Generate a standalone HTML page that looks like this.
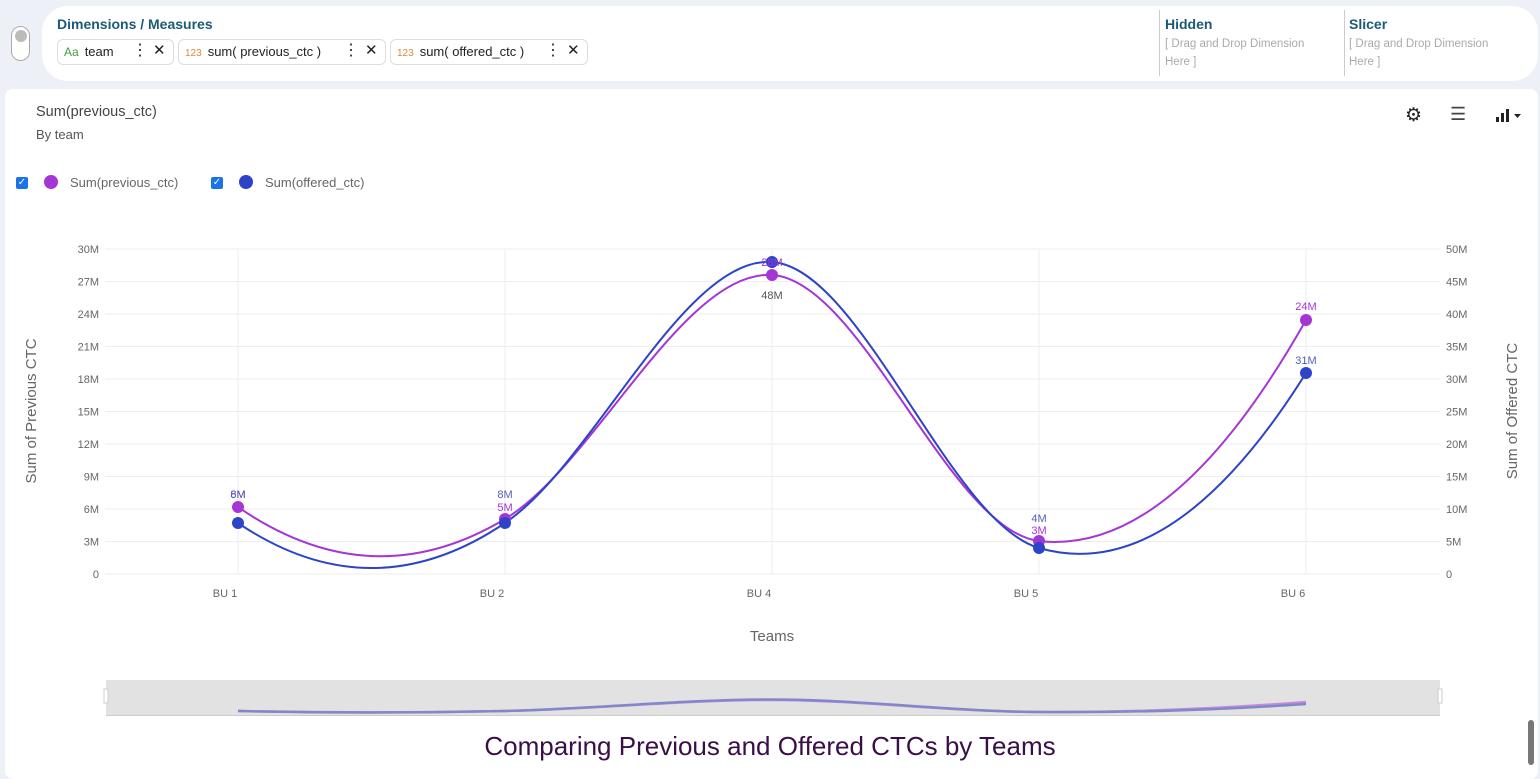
<!DOCTYPE html>
<html><head><meta charset="utf-8"><style>
*{box-sizing:border-box;margin:0;padding:0}
body{width:1540px;height:776px;overflow:hidden;background:#eef0f8;font-family:"Liberation Sans",sans-serif;position:relative}
.top{position:absolute;left:42px;top:6px;width:1496px;height:75px;background:#fff;border-radius:26px}
.tog{position:absolute;left:11px;top:26px;width:19px;height:35px;border:1px solid #aaa;border-radius:10px;background:#fff}
.tog:after{content:"";position:absolute;left:3px;top:3px;width:12px;height:12px;border-radius:50%;background:#bbb}
.hd{position:absolute;font-size:14px;font-weight:bold;color:#1d5a78}
.chip{position:absolute;top:39px;height:26px;border:1px solid #ddd;border-radius:6px;font-size:13px;color:#222;line-height:24px;padding-left:6px;white-space:nowrap}
.chip i{font-style:normal;font-size:10px;color:#e08a3c;margin-right:6px}
.chip b{font-weight:normal;position:absolute;font-size:16px}
.ph{position:absolute;font-size:11.5px;color:#aaa;line-height:18px;width:165px}
.vl{position:absolute;top:10px;width:1px;height:66px;background:#ccc}
.card{position:absolute;left:5px;top:89px;width:1533px;height:690px;background:#fff;border-radius:8px}
.t1{position:absolute;left:36px;top:104px;font-size:14.5px;color:#444}
.t2{position:absolute;left:36px;top:127px;font-size:13px;color:#555}
.cb{position:absolute;top:177px;width:12px;height:12px;background:#1a73e8;border-radius:2px;color:#fff;font-size:10px;line-height:12px;text-align:center}
.dot{position:absolute;top:175px;width:14px;height:14px;border-radius:50%}
.lg{position:absolute;top:175px;font-size:13px;color:#666}
</style></head><body>
<div class="tog"></div>
<div class="top"></div>
<div class="hd" style="left:57px;top:16px">Dimensions / Measures</div>
<div class="chip" style="left:57px;width:117px"><i style="color:#4a9a4a;font-size:12px">Aa</i>team<b style="left:74px;top:-1px">⋮</b><b style="left:95px;top:-1px;font-size:15px">✕</b></div>
<div class="chip" style="left:178px;width:208px"><i>123</i>sum( previous_ctc )<b style="left:164px;top:-1px">⋮</b><b style="left:186px;top:-1px;font-size:15px">✕</b></div>
<div class="chip" style="left:390px;width:198px"><i>123</i>sum( offered_ctc )<b style="left:154px;top:-1px">⋮</b><b style="left:176px;top:-1px;font-size:15px">✕</b></div>
<div class="vl" style="left:1159px"></div><div class="vl" style="left:1344px"></div>
<div class="hd" style="left:1165px;top:16px">Hidden</div>
<div class="hd" style="left:1349px;top:16px">Slicer</div>
<div class="ph" style="left:1165px;top:35px">[ Drag and Drop Dimension Here ]</div>
<div class="ph" style="left:1349px;top:35px">[ Drag and Drop Dimension Here ]</div>
<div class="card"></div>
<div class="t1">Sum(previous_ctc)</div>
<div class="t2">By team</div>
<div style="position:absolute;left:1405px;top:104px;font-size:19px;color:#222">⚙</div>
<div style="position:absolute;left:1450px;top:104px;font-size:18px;color:#444">☰</div>
<svg style="position:absolute;left:1494px;top:107px" width="32" height="16"><rect x="2" y="10" width="3" height="5" fill="#222"/><rect x="7" y="6" width="3" height="9" fill="#222"/><rect x="12" y="2" width="3" height="13" fill="#222"/><path d="M20 7 L27 7 L23.5 11Z" fill="#222"/></svg>
<div class="cb" style="left:16px">✓</div><div class="dot" style="left:44px;background:#a536d6"></div><div class="lg" style="left:70px">Sum(previous_ctc)</div>
<div class="cb" style="left:211px">✓</div><div class="dot" style="left:239px;background:#2d44c8"></div><div class="lg" style="left:265px">Sum(offered_ctc)</div>
<svg id="s" style="position:absolute;left:0;top:0" width="1540" height="776" font-family="Liberation Sans, sans-serif"></svg>
<div style="position:absolute;left:0;width:1540px;top:731px;text-align:center;font-size:26px;color:#3a0e47">Comparing Previous and Offered CTCs by Teams</div>
<div style="position:absolute;left:1528px;top:720px;width:6px;height:45px;background:#777;border-radius:3px"></div>
<script>
var s=document.getElementById('s'),h='';
var X0=105,X1=1440,Y0=574,Y1=249;
for(var i=0;i<=10;i++){var y=Y0-(Y0-Y1)*i/10;h+='<line x1="'+X0+'" x2="'+X1+'" y1="'+y+'" y2="'+y+'" stroke="#eee"/>';
h+='<text x="99" y="'+(y+4)+'" font-size="11" fill="#666" text-anchor="end">'+(i==0?'0':(i*3)+'M')+'</text>';
h+='<text x="1446" y="'+(y+4)+'" font-size="11" fill="#666">'+(i==0?'0':(i*5)+'M')+'</text>';}
var xs=[238,505,772,1039,1306],nm=['BU 1','BU 2','BU 4','BU 5','BU 6'];
xs.forEach(function(x,i){h+='<line x1="'+x+'" x2="'+x+'" y1="'+Y1+'" y2="'+Y0+'" stroke="#eee"/><text x="'+(x-13)+'" y="597" font-size="11" fill="#666" text-anchor="middle">'+nm[i]+'</text>';});
h+='<text x="772" y="641" font-size="15" fill="#666" text-anchor="middle">Teams</text>';
h+='<text transform="translate(36,411) rotate(-90)" font-size="15" fill="#666" text-anchor="middle">Sum of Previous CTC</text>';
h+='<text transform="translate(1517,411) rotate(-90)" font-size="15" fill="#666" text-anchor="middle">Sum of Offered CTC</text>';
function path(P,k){var n=P.length,T=[],d='M'+P[0][0]+','+P[0][1];
for(var i=0;i<n;i++){var a=P[Math.max(i-1,0)],b=P[Math.min(i+1,n-1)];T.push((b[1]-a[1])*k/2);}
T[0]=2*(P[1][1]-P[0][1])-T[1];
T[n-1]=2*(P[n-1][1]-P[n-2][1])-T[n-2];
for(var i=0;i<n-1;i++){var p=P[i],q=P[i+1],dx=(q[0]-p[0])/3;d+=' C'+(p[0]+dx)+','+(p[1]+T[i]/3)+' '+(q[0]-dx)+','+(q[1]-T[i+1]/3)+' '+q[0]+','+q[1];}return d;}
var pu=[[238,507],[505,519],[772,275],[1039,541],[1306,320]],bl=[[238,523],[505,523],[772,262],[1039,548],[1306,373]];
h+='<path d="'+path(pu,1.38)+'" fill="none" stroke="#a536d6" stroke-width="2"/>';
h+='<path d="'+path(bl,1.38)+'" fill="none" stroke="#2d44c8" stroke-width="2"/>';
pu.forEach(function(p){h+='<circle cx="'+p[0]+'" cy="'+p[1]+'" r="6" fill="#a536d6"/>'});
bl.forEach(function(p){h+='<circle cx="'+p[0]+'" cy="'+p[1]+'" r="6" fill="#2d44c8"/>'});
var L=[[238,498,'6M','#a536d6'],[238,498,'8M','#5560b8'],[505,511,'5M','#a536d6'],[505,498,'8M','#5560b8'],[772,266,'28M','#a536d6'],[772,299,'48M','#555'],[1039,534,'3M','#a536d6'],[1039,522,'4M','#5560b8'],[1306,310,'24M','#a536d6'],[1306,364,'31M','#5560b8']];
L.forEach(function(l){h+='<text x="'+l[0]+'" y="'+l[1]+'" font-size="11" fill="'+l[3]+'" text-anchor="middle">'+l[2]+'</text>'});
h+='<rect x="106" y="680" width="1334" height="36" fill="#e2e2e2"/><line x1="106" x2="1440" y1="715.5" y2="715.5" stroke="#ccc"/>';
h+='<rect x="104" y="689" width="4" height="14" fill="#fff" stroke="#ccc"/><rect x="1438" y="689" width="4" height="14" fill="#fff" stroke="#ccc"/>';
var mp=[[238,711],[505,711],[772,700],[1039,712],[1306,702]],mb=[[238,711],[505,711],[772,699.5],[1039,712],[1306,704]];
h+='<path d="'+path(mp,1)+'" fill="none" stroke="#c88ad8" stroke-width="2.5"/>';
h+='<path d="'+path(mb,1)+'" fill="none" stroke="#8088cc" stroke-width="2.5"/>';
s.innerHTML=h;
</script>
</body></html>
